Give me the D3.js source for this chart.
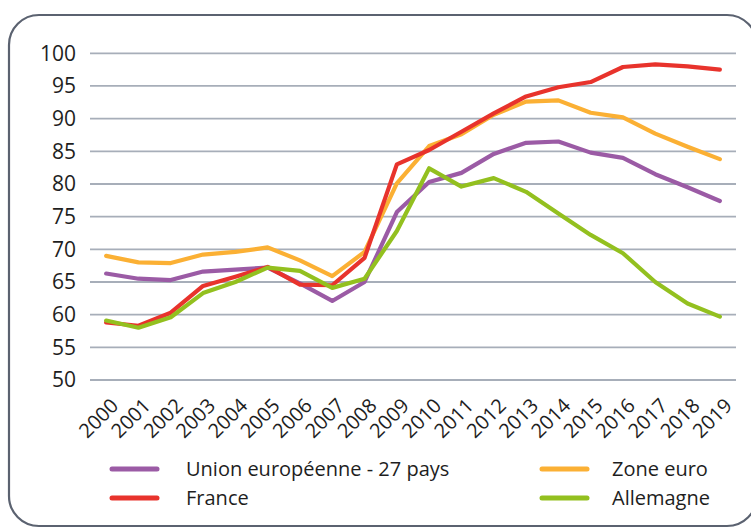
<!DOCTYPE html>
<html>
<head>
<meta charset="utf-8">
<script src="https://cdn.jsdelivr.net/npm/d3@7"></script>
<style>
  body { margin: 0; background: #fff; }
  text { font-family: "Open Sans", "Noto Sans", sans-serif; fill: #1e1e1e; }
</style>
</head>
<body>
<div id="chart"></div>
<script>
// années et séries (indice)
var years = ["2000","2001","2002","2003","2004","2005","2006","2007","2008","2009",
             "2010","2011","2012","2013","2014","2015","2016","2017","2018","2019"];
var ue27 = [66.3,65.5,65.3,66.6,66.9,67.2,64.8,62.1,65.0,75.7,80.3,81.7,84.6,86.3,86.5,84.8,84.0,81.5,79.5,77.4];
var zoneEuro = [69.0,68.0,67.9,69.2,69.6,70.3,68.3,65.9,69.6,80.1,85.8,87.6,90.6,92.6,92.8,90.9,90.2,87.7,85.7,83.8];
var france = [58.8,58.3,60.3,64.4,65.8,67.3,64.6,64.5,68.7,83.0,85.2,88.0,90.8,93.4,94.8,95.6,97.9,98.3,98.0,97.5];
var allemagne = [59.1,58.0,59.6,63.3,65.0,67.2,66.7,64.1,65.5,72.8,82.4,79.6,80.9,78.8,75.5,72.2,69.4,65.0,61.7,59.7];
var yTicks = [50,55,60,65,70,75,80,85,90,95,100];

var series = [
  {name: "Union européenne - 27 pays", values: ue27, color: "#9b5ba5"},
  {name: "Zone euro", values: zoneEuro, color: "#fbb034"},
  {name: "France", values: france, color: "#e8332c"},
  {name: "Allemagne", values: allemagne, color: "#93c01f"}
];
// ordre de dessin (Allemagne par-dessus comme sur l'original)
var drawOrder = [1, 0, 2, 3];

var width = 751, height = 529;
var svg = d3.select("#chart").append("svg")
    .attr("width", width)
    .attr("height", height);

// cadre arrondi
svg.append("rect")
    .attr("x", 9).attr("y", 15)
    .attr("width", 748).attr("height", 511)
    .attr("rx", 30).attr("ry", 30)
    .attr("fill", "none")
    .attr("stroke", "#5b6270")
    .attr("stroke-width", 2.2);

var x = d3.scalePoint().domain(years).range([90, 736]).padding(0.5);
var y = d3.scaleLinear().domain([50, 100]).range([380, 53.3]);

// grille
svg.append("g")
    .selectAll("line")
    .data(yTicks)
    .enter()
    .append("line")
    .attr("x1", 90).attr("x2", 736)
    .attr("y1", function(d) { return y(d); })
    .attr("y2", function(d) { return y(d); })
    .style("stroke", "#a7aeb9")
    .style("stroke-width", 1.8);

// axe y
var yAxis = svg.append("g")
    .attr("transform", "translate(90,0)")
    .call(d3.axisLeft(y).tickValues(yTicks).tickSize(0).tickPadding(14));
yAxis.select(".domain").remove();
yAxis.selectAll("text")
    .style("font-size", "21px")
    .attr("fill", "#1e1e1e");

// axe x
var xAxis = svg.append("g")
    .attr("transform", "translate(0,380)")
    .call(d3.axisBottom(x).tickSize(0));
xAxis.select(".domain").remove();
xAxis.selectAll("text")
    .style("font-size", "20px")
    .attr("fill", "#1e1e1e")
    .attr("text-anchor", "end")
    .attr("dy", null)
    .attr("y", 0)
    .attr("transform", "translate(13,27) rotate(-45)");

// courbes
var line = d3.line()
    .x(function(d, i) { return x(years[i]); })
    .y(function(d) { return y(d); });

svg.append("g")
    .selectAll("path")
    .data(drawOrder.map(function(i) { return series[i]; }))
    .enter()
    .append("path")
    .attr("d", function(d) { return line(d.values); })
    .attr("fill", "none")
    .attr("stroke", function(d) { return d.color; })
    .attr("stroke-width", 4.2)
    .attr("stroke-linejoin", "round")
    .attr("stroke-linecap", "round");

// légende
var legendPos = [
  {s: 0, x: 112, y: 469, tx: 74},
  {s: 2, x: 112, y: 498, tx: 74},
  {s: 1, x: 542, y: 469, tx: 70},
  {s: 3, x: 542, y: 498, tx: 70}
];
var leg = svg.append("g")
    .selectAll("g")
    .data(legendPos)
    .enter()
    .append("g")
    .attr("transform", function(d) { return "translate(" + d.x + "," + d.y + ")"; });
leg.append("line")
    .attr("x1", 0).attr("x2", 45)
    .attr("stroke", function(d) { return series[d.s].color; })
    .attr("stroke-width", 5)
    .attr("stroke-linecap", "round");
leg.append("text")
    .attr("x", function(d) { return d.tx; })
    .attr("dy", "0.35em")
    .style("font-size", "20px")
    .text(function(d) { return series[d.s].name; });
</script>
</body>
</html>
